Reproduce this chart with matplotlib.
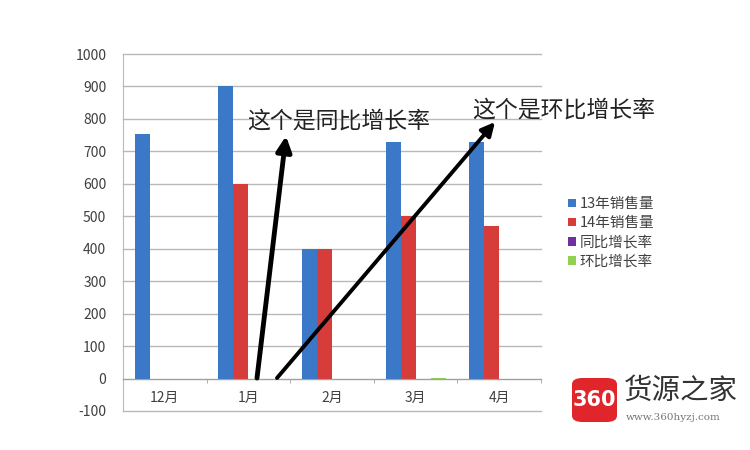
import matplotlib
matplotlib.use("Agg")
import matplotlib.pyplot as plt
from matplotlib.patches import FancyBboxPatch
import numpy as np

plt.rcParams['font.family'] = ['Noto Sans CJK SC', 'DejaVu Sans']

categories = ['12月', '1月', '2月', '3月', '4月']
sales_13 = [755, 900, 400, 730, 730]
sales_14 = [0, 600, 400, 500, 470]
yoy_rate = [0, -0.33, 0, -0.32, -0.36]
mom_rate = [0, 0, -0.33, 0.25, -0.06]
series_names = ['13年销售量', '14年销售量', '同比增长率', '环比增长率']
colors = ['#3b78c8', '#d63d3a', '#7030a0', '#92d050']
yticks = list(range(-100, 1001, 100))

fig = plt.figure(figsize=(7.5, 4.5), dpi=100)
fig.patch.set_facecolor('white')
ax = fig.add_axes([123/750, 1-411/450, (541-123)/750, (411-54)/450])

x = np.arange(len(categories))
w = 0.18
offs = [-1.5*w, -0.5*w, 0.5*w, 1.5*w]
handles = []
for s, (vals, c) in enumerate(zip([sales_13, sales_14, yoy_rate, mom_rate], colors)):
    b = ax.bar(x + offs[s], vals, width=w, color=c, label=series_names[s], zorder=3)
    handles.append(b)

ax.set_xlim(-0.5, len(categories) - 0.5)
ax.set_ylim(-100, 1000)
ax.set_yticks(yticks)
ax.set_yticklabels([str(t) for t in yticks], color='#404040', fontsize=10)
ax.yaxis.grid(True, color='#b8b8b8', linewidth=1, zorder=0)
for gl in ax.yaxis.get_gridlines():
    gl.set_clip_on(False)
ax.tick_params(axis='y', length=0, pad=12)

for side in ['top', 'right']:
    ax.spines[side].set_visible(False)
ax.spines['left'].set_color('#b8b8b8')
ax.spines['bottom'].set_position(('data', 0))
ax.spines['bottom'].set_color('#a0a0a0')
ax.spines['bottom'].set_zorder(4)
ax.set_xticks(x)
ax.set_xticklabels(categories, fontsize=10, color='#404040')
ax.tick_params(axis='x', length=0, pad=9)
ax.set_xticks(np.arange(len(categories) + 1) - 0.5, minor=True)
ax.tick_params(axis='x', which='minor', length=3, color='#a0a0a0', direction='out')

# legend
fig.legend(handles=handles, labels=series_names, loc='upper left',
           bbox_to_anchor=(555/750, 1-184/450), frameon=False,
           fontsize=10.5, handlelength=0.55, handleheight=0.55,
           handletextpad=0.25, labelspacing=0.35, labelcolor='#404040')

# annotations
def fp(px, py):
    return (px/750, 1-py/450)

fig.text(*fp(247, 121), '这个是同比增长率', fontsize=16.5, color='#222222',
         va='center', ha='left')
fig.text(*fp(472, 110), '这个是环比增长率', fontsize=16.5, color='#222222',
         va='center', ha='left')
ax.annotate('', xy=fp(286, 136), xycoords='figure fraction',
            xytext=fp(257, 378), textcoords='figure fraction',
            arrowprops=dict(arrowstyle='-|>,head_length=0.9,head_width=0.45',
                            color='black', lw=3.5, shrinkA=0, shrinkB=0),
            zorder=6)
ax.annotate('', xy=fp(495, 122), xycoords='figure fraction',
            xytext=fp(277, 378), textcoords='figure fraction',
            arrowprops=dict(arrowstyle='-|>,head_length=0.8,head_width=0.4',
                            color='black', lw=2.8, shrinkA=0, shrinkB=0),
            zorder=6)

# watermark
box = FancyBboxPatch(fp(572, 422), 45/750, 44/450, boxstyle='round,pad=0,rounding_size=0.014',
                     transform=fig.transFigure, facecolor='#e0262b', edgecolor='none')
fig.patches.append(box)
fig.text(*fp(594.5, 400), '360', fontsize=15, fontweight='bold', color='white',
         ha='center', va='center', family='DejaVu Sans Condensed')
fig.text(*fp(624, 391), '货源之家', fontsize=20.5, color='#333333', ha='left', va='center')
fig.text(*fp(626, 418), 'www.360hyzj.com', fontsize=7.5, color='#777777', ha='left',
         va='center', family='DejaVu Serif')

fig.savefig('out.png', dpi=100, facecolor='white')
